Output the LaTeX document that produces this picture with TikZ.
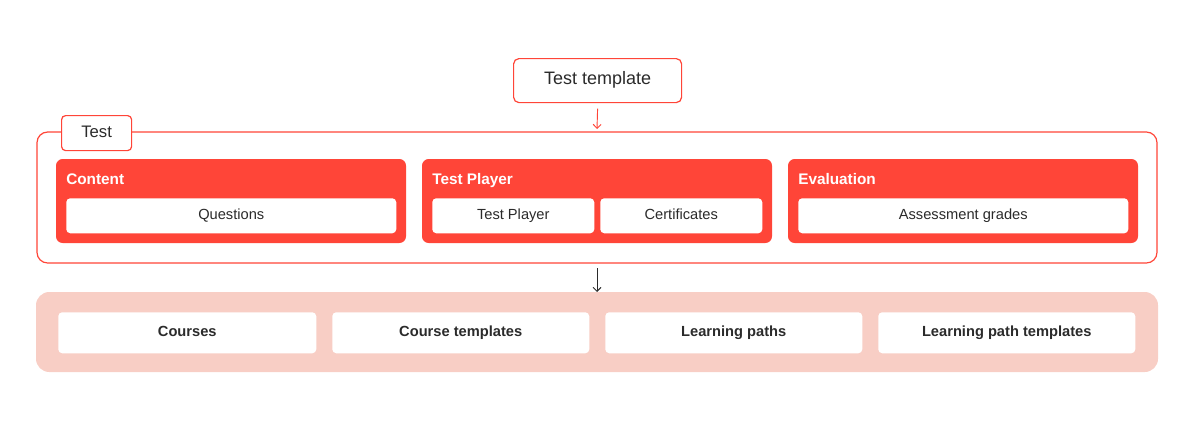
\documentclass[tikz,border=0pt]{standalone}
\usepackage{fontspec}
\setmainfont{Liberation Sans}
\usetikzlibrary{arrows.meta}
\definecolor{tred}{HTML}{FF4538}
\definecolor{tpink}{HTML}{F8CEC5}
\definecolor{tdark}{HTML}{2B2B2B}
\tikzset{
  box/.style={draw=none,rounded corners=3pt,anchor=north west,inner sep=0pt,text=tdark,text height=1.6ex,text depth=0.45ex,font=\fontsize{11}{13}\selectfont},
  group/.style={fill=tred,rounded corners=5pt},
  item/.style={box,fill=white},
  tail/.style={box,fill=white,font=\fontsize{11}{13}\selectfont\bfseries},
  gtitle/.style={anchor=west,text=white,text height=1.6ex,text depth=0.45ex,font=\fontsize{11.5}{13}\selectfont\bfseries,inner sep=0pt}
}
\begin{document}
\begin{tikzpicture}[x=0.75pt,y=-0.75pt]
  \useasboundingbox (0,0) rectangle (1198,447);
  % test frame
  \draw [tred,rounded corners=8pt,line width=0.9pt] (37,132) rectangle (1157,263);
  \node (tab) [box,draw=tred,line width=0.9pt,fill=white,minimum width=70*0.75pt,minimum height=35*0.75pt,font=\fontsize{12.5}{14}\selectfont] at (61,115) {Test};
  \node (tmpl) [box,draw=tred,line width=0.9pt,fill=white,rounded corners=4pt,minimum width=168*0.75pt,minimum height=44*0.75pt,font=\fontsize{13.5}{15}\selectfont] at (513,58) {Test template};
  \coordinate (frametop) at (597,129);
  \draw [tred,-{Straight Barb[length=3pt]},line width=0.7pt] ([yshift=-4pt]tmpl.south) -- (frametop);
  % groups
  \fill [group] (56,159) rectangle (406,243);
  \fill [group] (422,159) rectangle (772,243);
  \fill [group] (788,159) rectangle (1138,243);
  \node (gcontent) [gtitle] at (66,180) {Content};
  \node (gplayer) [gtitle] at (432,180) {Test Player};
  \node (geval) [gtitle] at (798,180) {Evaluation};
  \node (questions) [item,minimum width=330*0.75pt,minimum height=35*0.75pt] at (66,198) {Questions};
  \node (player) [item,minimum width=162*0.75pt,minimum height=35*0.75pt] at (432,198) {Test Player};
  \node (certs) [item,minimum width=162*0.75pt,minimum height=35*0.75pt] at (600,198) {Certificates};
  \node (grades) [item,minimum width=330*0.75pt,minimum height=35*0.75pt] at (798,198) {Assessment grades};
  % targets
  \coordinate (framebot) at (597,268);
  \coordinate (bandtop) at (597,292);
  \draw [tdark,-{Straight Barb[length=3pt]},line width=0.7pt] (framebot) -- (bandtop);
  \fill [tpink,rounded corners=10pt] (36,292) rectangle (1158,372);
  \node (courses) [tail,minimum width=258*0.75pt,minimum height=41*0.75pt] at (58,312) {Courses};
  \node (ctmpl) [tail,minimum width=257*0.75pt,minimum height=41*0.75pt] at (332,312) {Course templates};
  \node (paths) [tail,minimum width=257*0.75pt,minimum height=41*0.75pt] at (605,312) {Learning paths};
  \node (ptmpl) [tail,minimum width=257*0.75pt,minimum height=41*0.75pt] at (878,312) {Learning path templates};
\end{tikzpicture}
\end{document}
